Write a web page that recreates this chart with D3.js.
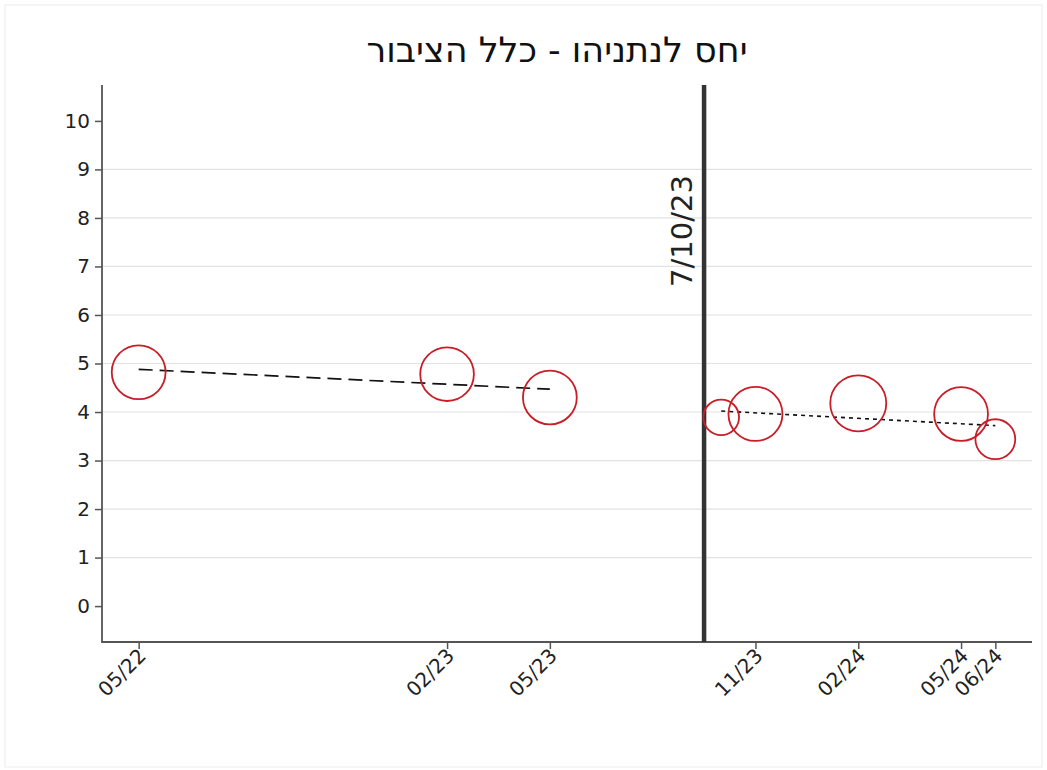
<!DOCTYPE html>
<html lang="he">
<head>
    <meta charset="UTF-8">
    <title>יחס לנתניהו - כלל הציבור</title>
    <script src="https://cdn.jsdelivr.net/npm/d3@7"></script>
    <style>
        body { margin: 0; background: #fff; }
        .tick text { font-family: "DejaVu Sans", sans-serif; fill: #222; }
    </style>
</head>
<body>
<div id="chart"></div>
<script>
    // months counted from Jan 2022 (0 = 01/22)
    var tickMonths = [4, 13, 16, 22, 25, 28, 29];
    var tickLabels = ["05/22", "02/23", "05/23", "11/23", "02/24", "05/24", "06/24"];

    var pointMonths = [4, 13, 16, 21, 22, 25, 28, 29];
    var pointValues = [4.82, 4.78, 4.30, 3.89, 3.96, 4.18, 3.96, 3.44];
    var pointN = [730, 725, 730, 320, 735, 790, 730, 400];

    // linear fits before / after the event
    var fitPreMonths = [4, 16];
    var fitPreValues = [4.88, 4.47];
    var fitPostMonths = [21, 29];
    var fitPostValues = [4.02, 3.72];

    var eventMonth = 20.5;
    var eventLabel = "7/10/23";
    var yTicks = [0, 1, 2, 3, 4, 5, 6, 7, 8, 9, 10];
    var gridValues = [1, 2, 3, 4, 5, 6, 7, 8, 9];

    var w = 1047, h = 770;
    var pLeft = 102, pRight = 1032, pTop = 85, pBottom = 642;

    var svg = d3.select("#chart").append("svg")
        .attr("width", w)
        .attr("height", h);

    // faint outer frame
    svg.append("rect")
        .attr("x", 5).attr("y", 5)
        .attr("width", w - 10).attr("height", h - 8)
        .attr("fill", "none")
        .attr("stroke", "#ececec");

    var x = d3.scaleLinear().domain([2.93, 30.07]).range([pLeft, pRight]);
    var y = d3.scaleLinear().domain([-0.74, 10.74]).range([pBottom, pTop]);
    var r = d3.scaleSqrt().domain([0, 790]).range([0, 28]);

    // grid
    svg.selectAll(".grid")
        .data(gridValues)
        .enter().append("line")
        .attr("class", "grid")
        .attr("x1", pLeft).attr("x2", pRight)
        .attr("y1", function(d) { return y(d); })
        .attr("y2", function(d) { return y(d); })
        .attr("stroke", "#e2e2e2")
        .attr("stroke-width", 1.2);

    // y axis
    var yAxis = svg.append("g")
        .attr("transform", "translate(" + pLeft + ",0)")
        .call(d3.axisLeft(y).tickValues(yTicks).tickSize(7).tickPadding(5).tickFormat(d3.format("d")));
    yAxis.select(".domain").remove();
    yAxis.selectAll(".tick line").attr("stroke", "#555").attr("stroke-width", 1.5);
    yAxis.selectAll(".tick text").style("font-size", "20px");

    // x axis
    var xAxis = svg.append("g")
        .attr("transform", "translate(0," + pBottom + ")")
        .call(d3.axisBottom(x).tickValues(tickMonths).tickSize(7)
            .tickFormat(function(d, i) { return tickLabels[i]; }));
    xAxis.select(".domain").remove();
    xAxis.selectAll(".tick line").attr("stroke", "#555").attr("stroke-width", 1.5);
    xAxis.selectAll(".tick text")
        .style("font-size", "20px")
        .attr("text-anchor", "end")
        .attr("dy", null)
        .attr("y", 0)
        .attr("transform", "translate(8,15) rotate(-45)");

    // axis lines
    svg.append("path")
        .attr("d", "M" + pLeft + "," + pTop + "V" + pBottom + "H" + pRight)
        .attr("fill", "none")
        .attr("stroke", "#555")
        .attr("stroke-width", 1.8);

    // event line
    svg.append("line")
        .attr("x1", x(eventMonth)).attr("x2", x(eventMonth))
        .attr("y1", pTop).attr("y2", pBottom)
        .attr("stroke", "#333")
        .attr("stroke-width", 4.5);

    svg.append("text")
        .attr("transform", "translate(" + (x(eventMonth) - 12) + "," + 231 + ") rotate(-90)")
        .attr("text-anchor", "middle")
        .style("font-family", "DejaVu Sans, sans-serif")
        .style("font-size", "29px")
        .attr("fill", "#222")
        .text(eventLabel);

    // fit lines
    var line = d3.line()
        .x(function(d) { return x(d[0]); })
        .y(function(d) { return y(d[1]); });

    svg.append("path")
        .attr("d", line(d3.zip(fitPreMonths, fitPreValues)))
        .attr("fill", "none")
        .attr("stroke", "#111")
        .attr("stroke-width", 1.7)
        .attr("stroke-dasharray", "14,7");

    svg.append("path")
        .attr("d", line(d3.zip(fitPostMonths, fitPostValues)))
        .attr("fill", "none")
        .attr("stroke", "#111")
        .attr("stroke-width", 1.6)
        .attr("stroke-dasharray", "4,4");

    // circles
    svg.selectAll(".pt")
        .data(d3.range(pointMonths.length))
        .enter().append("circle")
        .attr("class", "pt")
        .attr("cx", function(i) { return x(pointMonths[i]); })
        .attr("cy", function(i) { return y(pointValues[i]); })
        .attr("r", function(i) { return r(pointN[i]); })
        .attr("fill", "none")
        .attr("stroke", "#c81e28")
        .attr("stroke-width", 1.8);

    // title
    svg.append("text")
        .attr("x", 557).attr("y", 62)
        .attr("text-anchor", "middle")
        .style("font-family", "DejaVu Sans, sans-serif")
        .style("font-size", "35px")
        .attr("fill", "#111")
        .text("יחס לנתניהו - כלל הציבור");
</script>
</body>
</html>
